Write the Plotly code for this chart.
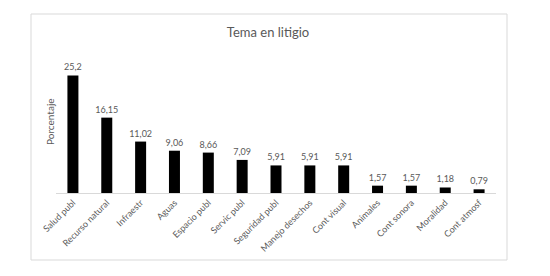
import plotly.graph_objects as go

categories = ["Salud publ", "Recurso natural", "Infraestr", "Aguas", "Espacio publ",
              "Servic publ", "Seguridad publ", "Manejo desechos", "Cont visual",
              "Animales", "Cont sonora", "Moralidad", "Cont atmosf"]
values = [25.2, 16.15, 11.02, 9.06, 8.66, 7.09, 5.91, 5.91, 5.91, 1.57, 1.57, 1.18, 0.79]
labels = [str(v).replace(".", ",") for v in values]

FONT = "Lato"
GRAY = "#595959"

OFF = 8  # page body margin
W, H = 550, 276
# target positions in the screenshot
PL, PR, PT, PB = 56, 496, 53, 193
L = PL - OFF
T = PT - OFF
R = W - (PR - OFF)
B = H - (PB - OFF)
PW, PH = W - L - R, H - T - B


def px_x(x):
    return (x - OFF - L) / PW


def px_y(y):
    return (T + PH - (y - OFF)) / PH


fig = go.Figure(go.Bar(
    x=categories, y=values, text=labels, textposition="outside",
    textfont=dict(family=FONT, size=9, color=GRAY),
    constraintext="none",
    marker=dict(color="black", line=dict(width=0)),
    cliponaxis=False,
))

fig.update_layout(
    width=W, height=H,
    margin=dict(l=L, r=R, t=T, b=B, autoexpand=False),
    paper_bgcolor="white", plot_bgcolor="white",
    bargap=0.675,
    showlegend=False,
    title=dict(text="Tema en litigio", x=(268 - OFF) / W, xanchor="center",
               y=1 - (32 - OFF) / H, yanchor="middle", yref="container", xref="container",
               font=dict(family=FONT, size=13, color=GRAY)),
    xaxis=dict(tickangle=-45, showline=True, linecolor="#d9d9d9", linewidth=1,
               ticks="", tickfont=dict(family=FONT, size=9, color=GRAY),
               showgrid=False, automargin=False),
    yaxis=dict(range=[0, 30], showticklabels=False, showgrid=False, zeroline=False,
               ticks="", automargin=False),
    annotations=[dict(text="Porcentaje", textangle=-90, xref="paper", yref="paper",
                      x=px_x(50), y=px_y(122), showarrow=False,
                      xanchor="center", yanchor="middle",
                      font=dict(family=FONT, size=10, color=GRAY))],
    shapes=[dict(type="rect", xref="paper", yref="paper",
                 x0=px_x(31), x1=px_x(507), y0=px_y(260), y1=px_y(14),
                 line=dict(color="#d9d9d9", width=1), layer="below")],
)

fig.write_html("out.html")
